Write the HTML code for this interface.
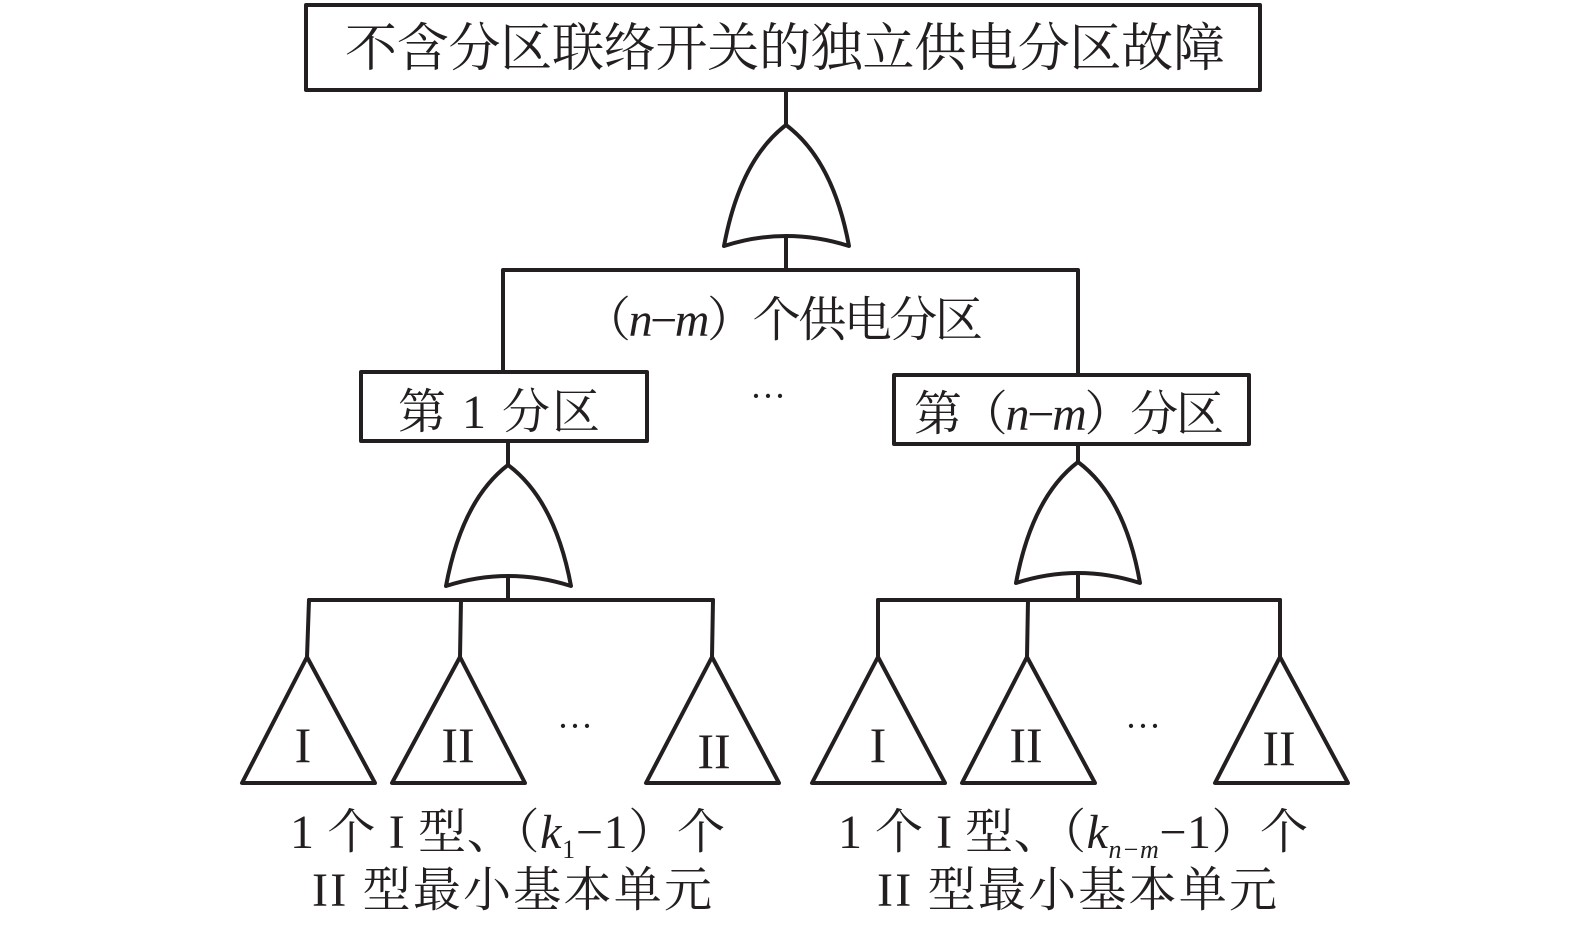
<!DOCTYPE html>
<html><head><meta charset="utf-8"><style>
html,body{margin:0;padding:0;background:#fff;}
svg{display:block;}
text{font-family:"Liberation Serif","Noto Serif CJK SC",serif;fill:#231f20;}
</style></head><body>
<svg width="1575" height="927" viewBox="0 0 1575 927" xmlns="http://www.w3.org/2000/svg">
<g fill="none" stroke="#231f20" stroke-width="4" stroke-linejoin="round" stroke-linecap="round">
<rect x="306" y="5" width="954" height="85"/>
<line x1="786" y1="90" x2="786" y2="125"/>
<path d="M786 125 Q740 160 724 246 Q786 226 849 246 Q833 160 786 125 Z"/>
<line x1="786" y1="236" x2="786" y2="270"/>
<polyline points="503,372 503,270 1078,270 1078,375"/>
<rect x="361" y="372" width="286" height="69"/>
<rect x="894" y="375" width="355" height="69"/>
<line x1="508" y1="441" x2="508" y2="465"/>
<path d="M508 465 Q462 500 446 586 Q508 566 571 586 Q555 500 508 465 Z"/>
<line x1="508" y1="576" x2="508" y2="600"/>
<line x1="309" y1="600" x2="713" y2="600"/>
<polyline points="309,600 307,657"/><polyline points="461,600 460,657"/><polyline points="713,600 712,657"/>
<path d="M307 657 L242 783 L375 783 Z"/><path d="M460 657 L392 783 L525 783 Z"/><path d="M712 657 L646 783 L779 783 Z"/>
<line x1="1078" y1="444" x2="1078" y2="462"/>
<path d="M1078 462 Q1032 497 1016 583 Q1078 563 1140 583 Q1125 497 1078 462 Z"/>
<line x1="1078" y1="573" x2="1078" y2="600"/>
<line x1="878" y1="600" x2="1280" y2="600"/>
<polyline points="878,600 878,657"/><polyline points="1028,600 1027,657"/><polyline points="1280,600 1280,657"/>
<path d="M878 657 L812 783 L945 783 Z"/><path d="M1027 657 L962 783 L1095 783 Z"/><path d="M1280 657 L1215 783 L1348 783 Z"/>
</g>
<text x="345" y="66" font-size="52" textLength="880">不含分区联络开关的独立供电分区故障</text>
<text x="583" y="336" font-size="48" textLength="400">（<tspan font-style="italic">n</tspan>−<tspan font-style="italic">m</tspan>）个供电分区</text>
<text x="398" y="428" font-size="48" textLength="202">第 1 分区</text>
<text x="914" y="430" font-size="48" textLength="310">第（<tspan font-style="italic">n</tspan>−<tspan font-style="italic">m</tspan>）分区</text>
<text x="768" y="408" font-size="36" text-anchor="middle">···</text>
<text x="575" y="738" font-size="36" text-anchor="middle">···</text>
<text x="1143" y="738" font-size="36" text-anchor="middle">···</text>
<g font-size="50" text-anchor="middle">
<text x="303" y="762">I</text><text x="458" y="762">II</text><text x="714" y="768">II</text>
<text x="878" y="762">I</text><text x="1026" y="762">II</text><text x="1279" y="765">II</text>
</g>
<text x="290" y="848" font-size="48" textLength="435">1 个 I 型、（<tspan font-style="italic">k</tspan><tspan font-size="26" dy="10">1</tspan><tspan dy="-10">−1）个</tspan></text>
<text x="312" y="906" font-size="48" textLength="400">II 型最小基本单元</text>
<text x="838" y="848" font-size="48" textLength="470">1 个 I 型、（<tspan font-style="italic">k</tspan><tspan font-size="26" font-style="italic" dy="10">n−m</tspan><tspan dy="-10">−1）个</tspan></text>
<text x="877" y="906" font-size="48" textLength="400">II 型最小基本单元</text>
</svg>
</body></html>
